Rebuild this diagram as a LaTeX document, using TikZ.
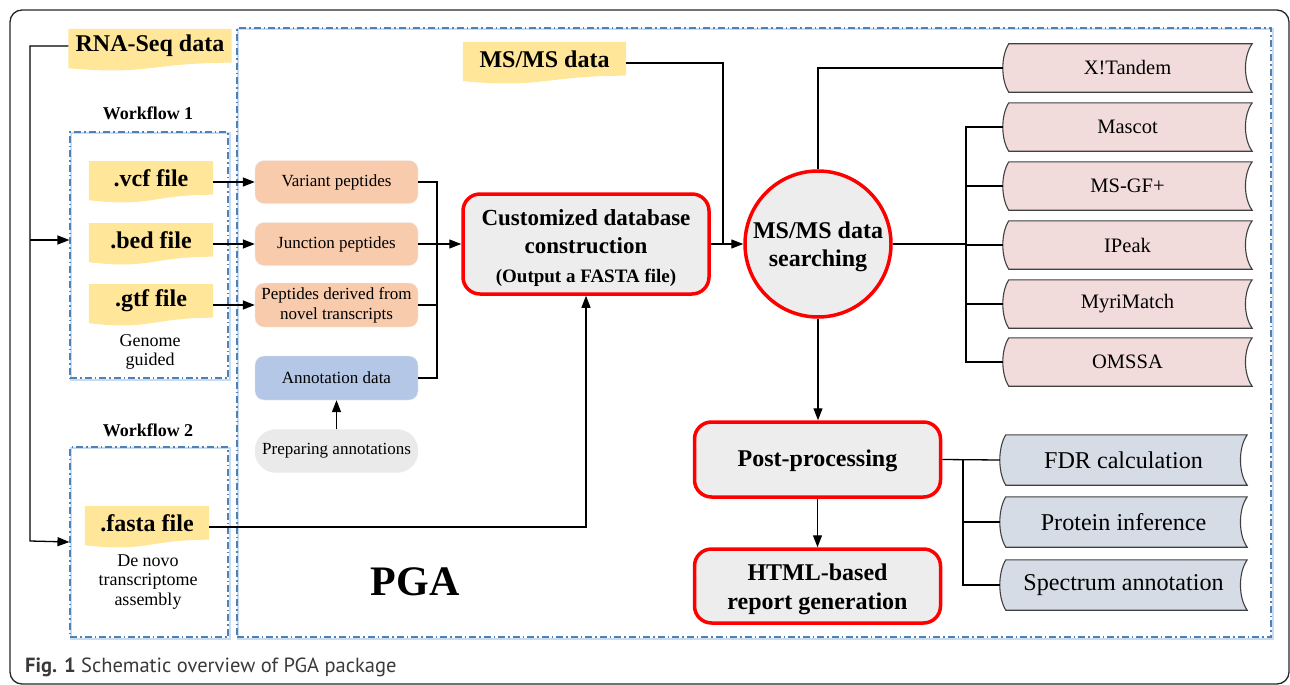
\documentclass[tikz,border=0pt]{standalone}
\usepackage{fontspec}
\setmainfont{Liberation Serif}
\newfontfamily\capfont{PT Sans}
\newfontfamily\serifx{Liberation Serif}
\usetikzlibrary{arrows.meta,calc,backgrounds}
\definecolor{docY}{HTML}{FFE699}
\definecolor{pepO}{HTML}{F8CBAD}
\definecolor{annB}{HTML}{B4C7E7}
\definecolor{prepG}{HTML}{EAEAEA}
\definecolor{boxG}{HTML}{EDEDED}
\definecolor{toolP}{HTML}{F2DCDB}
\definecolor{postB}{HTML}{D6DCE5}
\definecolor{frameB}{HTML}{4F81B5}
\definecolor{shadB}{HTML}{C9DCEF}
\definecolor{capG}{HTML}{3A3A3A}
\newcommand\tooltxt[1]{\scalebox{1.14}{#1}}
\newcommand\posttxt[1]{\scalebox{1.34}{#1}}
\tikzset{
 ln/.style={line width=1.3pt, draw=black},
 arr/.style={ln, -{Triangle[length=12pt,width=9pt]}},
 docnode/.style={inner sep=0pt, font=\serifx\fontsize{24pt}{28pt}\selectfont\bfseries},
 pep/.style={rounded corners=9pt, fill=pepO, draw=black!8, minimum width=163pt, minimum height=43pt, inner sep=1pt, align=center, font=\serifx\fontsize{17pt}{20pt}\selectfont},
 redbox/.style={draw=red, line width=3.5pt, fill=boxG, rounded corners=17pt, align=center, font=\serifx\fontsize{24pt}{29pt}\selectfont\bfseries, minimum width=246pt},
 tool/.style={minimum width=249pt, minimum height=48pt, inner sep=0pt, font=\serifx\fontsize{18pt}{21pt}\selectfont},
 posttool/.style={minimum width=247pt, minimum height=50pt, inner sep=0pt, font=\serifx\fontsize{18pt}{21pt}\selectfont},
 wfbox/.style={draw=frameB, line width=1.1pt, dash pattern=on 7pt off 3pt on 1.5pt off 3pt, inner sep=0pt},
 wflabel/.style={font=\serifx\fontsize{18pt}{22pt}\selectfont\bfseries},
 note/.style={font=\serifx\fontsize{18pt}{19.5pt}\selectfont, align=center},
}
\newcommand\docbg[1]{%
 \begin{pgfonlayer}{background}
 \fill[docY] let \p1=(#1.west), \p2=(#1.east) in
  (\x1,{\y1+17pt}) -- (\x2,{\y1+17pt}) -- (\x2,{\y1-16.7pt})
  .. controls ({0.5*\x1+0.5*\x2},{\y1-16.7pt}) and ({0.5*\x1+0.5*\x2},{\y1-29.5pt}) .. (\x1,{\y1-22.2pt}) -- cycle;
 \end{pgfonlayer}}
\newcommand\storedbg[2]{%
 \begin{pgfonlayer}{background}
 \filldraw[fill=#2, draw=black!75, line width=1.1pt] let \p1=(#1.north west), \p2=(#1.south east) in
  ({\x1+6pt},\y1) -- (\x2,\y1)
  .. controls ({\x2-9pt},{0.75*\y1+0.25*\y2}) and ({\x2-9pt},{0.25*\y1+0.75*\y2}) .. (\x2,\y2)
  -- ({\x1+6pt},\y2)
  .. controls ({\x1-2pt},{0.25*\y1+0.75*\y2}) and ({\x1-2pt},{0.75*\y1+0.25*\y2}) .. ({\x1+6pt},\y1) -- cycle;
 \end{pgfonlayer}}
\newcommand\frameshadow[1]{%
 \begin{pgfonlayer}{background}
 \draw[shadB, line width=2.5pt] ($(#1.north west)+(1.5,1.5)$) rectangle ($(#1.south east)+(1.5,1.5)$);
 \end{pgfonlayer}}
\begin{document}
\begin{tikzpicture}[x=1pt,y=-1pt]
\useasboundingbox (0,0) rectangle (1290,685);
\node[draw=black!85, line width=1.3pt, rounded corners=12pt, minimum width=1279pt, minimum height=674pt, inner sep=0pt] (outer) at (649.5,347) {};
\node[wfbox, minimum width=1034pt, minimum height=609pt] (pgaf) at (754,332.5) {};
\node[wfbox, minimum width=158pt, minimum height=246pt] (wf1) at (149,255) {};
\node[wfbox, minimum width=158pt, minimum height=190pt] (wf2) at (149,542) {};
\frameshadow{pgaf}\frameshadow{wf1}\frameshadow{wf2}
% documents
\node[docnode, minimum width=163pt] (rna) at (150,46) {RNA-Seq data};
\node[docnode, minimum width=163pt] (msms) at (544.5,59) {MS/MS data};
\node[docnode, minimum width=124pt] (vcf) at (151,178) {.vcf file};
\node[docnode, minimum width=124pt] (bed) at (151,240) {.bed file};
\node[docnode, minimum width=124pt] (gtf) at (151,301) {.gtf file};
\node[docnode, minimum width=124pt] (fasta) at (147,523) {.fasta file};
\docbg{rna}\docbg{msms}\docbg{vcf}\docbg{bed}\docbg{gtf}\docbg{fasta}
% labels
\node[wflabel] (wf1l) at (148,113) {Workflow 1};
\node[wflabel] (wf2l) at (148,430) {Workflow 2};
\node[note] (gg) at (150,352) {Genome\\guided};
\node[note] (dn) at (148,582) {De novo\\transcriptome\\assembly};
\node[font=\serifx\fontsize{42pt}{46pt}\selectfont\bfseries] (pgal) at (415,582) {PGA};
% peptides
\node[pep] (var) at (336.5,182) {Variant peptides};
\node[pep] (jun) at (336.5,244) {Junction peptides};
\node[pep, minimum height=44pt] (nov) at (336.5,305) {Peptides derived from\\novel transcripts};
\node[pep, fill=annB, minimum height=44pt] (ann) at (336.5,378) {Annotation data};
\node[pep, fill=prepG, rounded corners=21pt] (prep) at (336.5,451) {Preparing annotations};
% main process
\node[redbox, minimum height=100pt, font=\serifx\fontsize{23pt}{28.5pt}\selectfont\bfseries] (cust) at (586,244) {\rule{0pt}{24pt}Customized database\\construction\\{\fontsize{19pt}{28.5pt}\selectfont (Output a FASTA file)}};
\node[circle, draw=red, line width=3.5pt, fill=boxG, minimum size=146pt, inner sep=0pt, align=center, font=\serifx\fontsize{24pt}{28pt}\selectfont\bfseries] (circ) at (818,244) {\rule{0pt}{22pt}MS/MS data\\searching};
\node[redbox, minimum height=75pt] (postp) at (817.5,459.5) {\rule{0pt}{19pt}Post-processing};
\node[redbox, minimum height=74pt] (html) at (817.5,586) {\rule{0pt}{24pt}HTML-based\\report generation};
% tools
\node[tool] (xt) at (1127.5,68) {\tooltxt{X!Tandem}};
\node[tool] (mas) at (1127.5,127) {\tooltxt{Mascot}};
\node[tool] (msgf) at (1127.5,186) {\tooltxt{MS-GF+}};
\node[tool] (ipk) at (1127.5,245) {\tooltxt{IPeak}};
\node[tool] (myri) at (1127.5,304) {\tooltxt{MyriMatch}};
\node[tool] (oms) at (1127.5,362) {\tooltxt{OMSSA}};
\foreach \nm in {xt,mas,msgf,ipk,myri,oms} {\storedbg{\nm}{toolP}}
\node[posttool] (fdr) at (1123.5,460) {\posttxt{FDR calculation}};
\node[posttool] (pinf) at (1123.5,522) {\posttxt{Protein inference}};
\node[posttool] (spec) at (1123.5,585) {\posttxt{Spectrum annotation}};
\foreach \nm in {fdr,pinf,spec} {\storedbg{\nm}{postB}}
% connectors
\coordinate (lx) at (30,541);
\draw[arr] (rna.west) -| (lx) -- (wf2.west);
\draw[arr] (lx |- bed) -- (wf1.west |- bed);
\draw[arr] (vcf.east |- var) -- (var.west);
\draw[arr] (bed.east |- jun) -- (jun.west);
\draw[arr] (gtf.east |- nov) -- (nov.west);
\draw[arr] ([yshift=-4pt]fasta.east) -| (cust.south);
\coordinate (bA) at (437,244);
\draw[ln] (var.east) -- (var.east -| bA) -- (ann.east -| bA) -- (ann.east);
\draw[ln] (nov.east) -- (nov.east -| bA);
\draw[arr] (jun.east) -- (cust.west);
\draw[arr] (prep.north) -- (ann.south);
\coordinate (j1) at (723,244);
\draw[ln] ([yshift=-4pt]msms.east) -| (j1);
\draw[arr] (cust.east) -- (circ.west);
\draw[ln] (circ.north) |- (xt.west);
\coordinate (bB) at (966,244);
\draw[ln] (circ.east) -- (bB);
\draw[ln] (mas.west) -- (mas.west -| bB) -- (oms.west -| bB) -- (oms.west);
\foreach \nm in {msgf,ipk,myri} {\draw[ln] (\nm.west) -- (\nm.west -| bB);}
\draw[arr] (circ.south) -- (circ.south |- postp.north);
\draw[arr] (postp.south) -- (html.north);
\coordinate (bC) at (963,460);
\draw[ln] (postp.east) -- (fdr.west);
\draw[ln] (bC) -- (spec.west -| bC) -- (spec.west);
\draw[ln] (pinf.west -| bC) -- (pinf.west);
% caption
\node[anchor=west, font=\capfont\fontsize{20.5pt}{24pt}\selectfont, text=capG, inner sep=0pt] (cap) at (25,667) {\textbf{Fig. 1} Schematic overview of PGA package};
\end{tikzpicture}
\end{document}
